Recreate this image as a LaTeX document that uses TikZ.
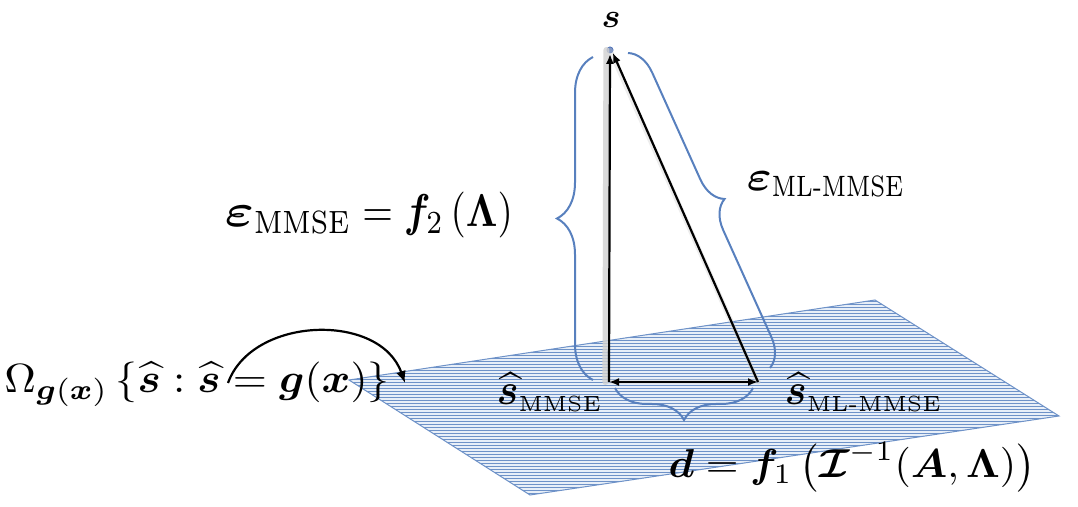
\documentclass[tikz,border=0pt]{standalone}
\usepackage{amsmath,bm,graphicx}
\usetikzlibrary{decorations.pathreplacing,arrows.meta}
\definecolor{planefill}{RGB}{232,239,248}
\definecolor{planeline}{RGB}{110,146,200}
\definecolor{bracecol}{RGB}{88,128,190}
\definecolor{dotcol}{RGB}{80,115,185}
\newcommand{\weps}{\scalebox{1.4}[1]{$\bm{\varepsilon}$}}
\tikzset{
  lbl/.style={inner sep=0pt},
  bracestyle/.style={draw=bracecol, line width=1pt, decorate},
  vecarrow/.style={draw=black, line width=1.1pt, -{Latex[length=5pt,width=4pt]}},
  glow/.style={draw=black!18, line cap=round},
}
\begin{document}
\begin{tikzpicture}[x=0.5pt,y=-0.5pt]
\useasboundingbox (0,0) rectangle (1078,507);
% plane
\coordinate (pl) at (349,380);
\coordinate (pt) at (875,300);
\coordinate (pr) at (1059,416);
\coordinate (pb) at (530,495);
\begin{scope}
\clip (pl) -- (pt) -- (pr) -- (pb) -- cycle;
\fill[planefill] (pl) -- (pt) -- (pr) -- (pb) -- cycle;
\foreach \y in {298,301,...,497} \draw[planeline, line width=0.38pt] (340,\y) -- (1062,\y);
\end{scope}
\draw[planeline, line width=0.5pt] (pl) -- (pt) -- (pr) -- (pb) -- cycle;
% points
\coordinate (smmse) at (609,382);
\coordinate (sml) at (758,382);
\node[circle, fill=dotcol, inner sep=0pt, minimum size=3.5pt] (s) at (610,50) {};
% glow
\draw[glow, line width=3pt, opacity=0.8] ([xshift=-1.8pt]s.center) -- ([xshift=-1.8pt]smmse);
\draw[glow, line width=2.5pt, opacity=0.4] (s.center) -- (sml);
\draw[glow, line width=2.5pt, opacity=0.4] (smmse) -- (sml);
% arrows
\draw[vecarrow] (smmse) -- (s.south);
\draw[vecarrow] (sml) -- (s.south east);
\draw[draw=black, line width=1.1pt, {Latex[length=5pt,width=4pt]}-{Latex[length=5pt,width=4pt]}] (smmse) -- (sml);
% braces
\coordinate (lb1) at (593,380);
\coordinate (lb2) at (593,57);
\draw[bracestyle, decoration={brace, amplitude=18pt}] (lb1) -- (lb2);
\coordinate (rb1) at (628,53);
\coordinate (rb2) at (770,368);
\draw[bracestyle, decoration={brace, amplitude=14pt}] (rb1) -- (rb2);
\coordinate (bb1) at (753,388);
\coordinate (bb2) at (615,388);
\draw[bracestyle, decoration={brace, amplitude=16pt}] (bb1) -- (bb2);
% labels
\node[lbl] (slbl) at (611,20) {\resizebox*{9.5pt}{7.5pt}{$\bm{s}$}};
\node[lbl] (emmse) at (369,215) {\resizebox*{144pt}{23pt}{$\weps_{\mathrm{MMSE}} = \bm{f}_2\left(\bm{\Lambda}\right)$}};
\node[lbl] (eml) at (826,184) {\resizebox*{79pt}{12.5pt}{$\weps_{\mathrm{ML\text{-}MMSE}}$}};
\node[lbl] (shmmse) at (550,392) {\resizebox*{53pt}{19.5pt}{$\widehat{\bm{s}}_{\scriptscriptstyle\mathrm{MMSE}}$}};
\node[lbl] (shml) at (864,392) {\resizebox*{79pt}{19.5pt}{$\widehat{\bm{s}}_{\scriptscriptstyle\mathrm{ML\text{-}MMSE}}$}};
\node[lbl] (dlbl) at (852,467) {\resizebox*{183.5pt}{25pt}{$\bm{d} = \bm{f}_1\left(\bm{\mathcal{I}}^{-1}(\bm{A},\bm{\Lambda})\right)$}};
\node[lbl] (omega) at (197,384) {\resizebox*{192.5pt}{22.5pt}{$\Omega_{\bm{g}(\bm{x})}\,\{\widehat{\bm{s}} : \widehat{\bm{s}} = \bm{g}(\bm{x})\}$}};
% curved arrow
\coordinate (arcstart) at (228,383);
\coordinate (arcend) at (405,383);
\draw[line width=1.1pt, -{Latex[length=6pt,width=5pt]}] (arcstart) .. controls (252,316) and (380,312) .. (arcend);
\end{tikzpicture}
\end{document}
